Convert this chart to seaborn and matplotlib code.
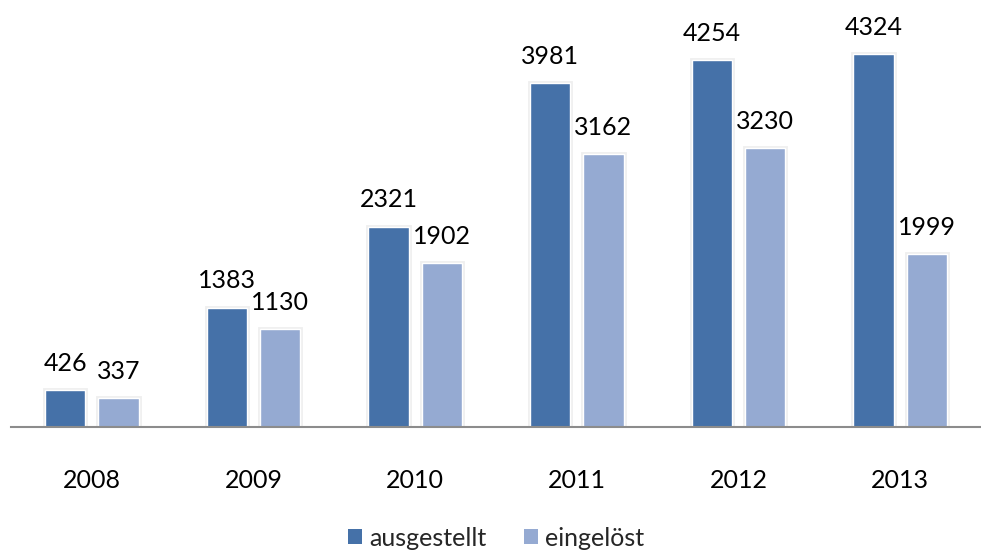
import matplotlib
matplotlib.use("Agg")
import matplotlib.pyplot as plt
import matplotlib.patheffects as pe
import seaborn as sns
import pandas as pd

years = ["2008", "2009", "2010", "2011", "2012", "2013"]
ausgestellt = [426, 1383, 2321, 3981, 4254, 4324]
eingeloest = [337, 1130, 1902, 3162, 3230, 1999]
series_names = ["ausgestellt", "eingelöst"]
colors = ["#4571A8", "#95AAD2"]

df = pd.DataFrame({
    "Jahr": years * 2,
    "Wert": ausgestellt + eingeloest,
    "Serie": [series_names[0]] * len(years) + [series_names[1]] * len(years),
})

sns.set_theme(style="white")
plt.rcParams["font.family"] = ["Lato", "DejaVu Sans"]

fig = plt.figure(figsize=(9.81, 5.52), dpi=100)
ax = fig.add_axes([11 / 981, (552 - 427) / 552, 970 / 981, 427 / 552])

sns.barplot(data=df, x="Jahr", y="Wert", hue="Serie", order=years,
            hue_order=series_names, palette=colors, saturation=1,
            width=0.66, gap=0.24, ax=ax, legend=True,
            edgecolor="white", linewidth=1)

for patch in ax.patches:
    patch.set_path_effects([pe.Stroke(linewidth=3.5, foreground="#efefef"), pe.Normal()])

for cont in ax.containers:
    ax.bar_label(cont, labels=[f"{int(v)}" for v in cont.datavalues],
                 padding=11, fontsize=18, color="black")

ax.set_ylim(0, 427 / 0.0863)
ax.set_xlim(-0.5, len(years) - 0.5)
ax.set_xlabel("")
ax.set_ylabel("")
ax.set_yticks([])
ax.tick_params(axis="x", length=0, pad=30, labelsize=18, colors="black")
for s in ["top", "right", "left"]:
    ax.spines[s].set_visible(False)
ax.spines["bottom"].set_color("#8c8c8c")
ax.spines["bottom"].set_linewidth(1.5)
ax.spines["bottom"].set_zorder(5)

leg = ax.legend(loc="center", bbox_to_anchor=(0.5, -0.26),
                ncol=2, frameon=False, fontsize=18, handlelength=0.55, handleheight=0.55,
                handletextpad=0.3, columnspacing=1.5)
for h in leg.legend_handles:
    h.set_path_effects([])
    h.set_edgecolor("none")

fig.savefig("out.png", dpi=100)
